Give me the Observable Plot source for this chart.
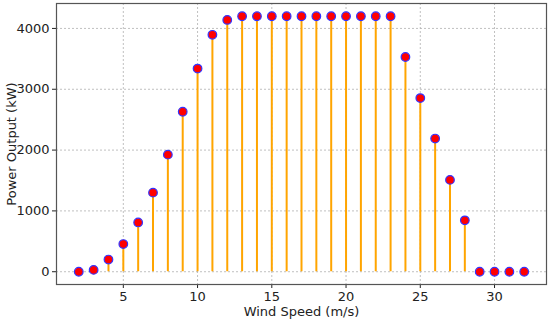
<!DOCTYPE html>
<html>
<head>
<meta charset="utf-8">
<script src="https://cdn.jsdelivr.net/npm/d3@7"></script>
<script src="https://cdn.jsdelivr.net/npm/@observablehq/plot@0.6"></script>
<style>
  html, body { margin: 0; padding: 0; background: #fff; }
  #chart { width: 550px; height: 320px; }
  #chart svg text { font-size: 13px; }
</style>
</head>
<body>
<div id="chart"></div>
<script>
const windSpeed = [2,3,4,5,6,7,8,9,10,11,12,13,14,15,16,17,18,19,20,21,22,23,24,25,26,27,28,29,30,31,32];
const powerOutput = [0,30,200,455,810,1300,1925,2630,3340,3895,4140,4200,4200,4200,4200,4200,4200,4200,4200,4200,4200,4200,3530,2855,2190,1510,845,0,0,0,0];
const xTicks = [5,10,15,20,25,30];
const yTicks = [0,1000,2000,3000,4000];
const xLabel = "Wind Speed (m/s)";
const yLabel = "Power Output (kW)";

const data = windSpeed.map((w, i) => ({wind: w, power: powerOutput[i]}));

const chart = Plot.plot({
  width: 550,
  height: 320,
  marginLeft: 56,
  marginRight: 4,
  marginTop: 3,
  marginBottom: 36,
  style: {fontFamily: "DejaVu Sans, sans-serif", fontSize: "13px", color: "#222", background: "#fff"},
  x: {domain: [0.5, 33.5]},
  y: {domain: [-210, 4410]},
  marks: [
    Plot.gridX(xTicks, {stroke: "#b0b0b0", strokeOpacity: 1, strokeDasharray: "2,2", strokeWidth: 0.8}),
    Plot.gridY(yTicks, {stroke: "#b0b0b0", strokeOpacity: 1, strokeDasharray: "2,2", strokeWidth: 0.8}),
    Plot.axisX({ticks: xTicks, tickFormat: "d", tickSize: 4, tickPadding: 3, label: xLabel, labelAnchor: "center", labelArrow: "none", labelOffset: 31}),
    Plot.axisY({ticks: yTicks, tickFormat: "d", tickSize: 4, tickPadding: 3, label: yLabel, labelAnchor: "center", labelArrow: "none", labelOffset: 50}),
    Plot.ruleX(data, {x: "wind", y1: 0, y2: "power", stroke: "orange", strokeWidth: 2}),
    Plot.dot(data, {x: "wind", y: "power", r: 4.3, fill: "red", stroke: "#3333ff", strokeWidth: 1.2}),
    Plot.frame({stroke: "#555", strokeWidth: 1.2})
  ]
});
document.getElementById("chart").appendChild(chart);
</script>
</body>
</html>
